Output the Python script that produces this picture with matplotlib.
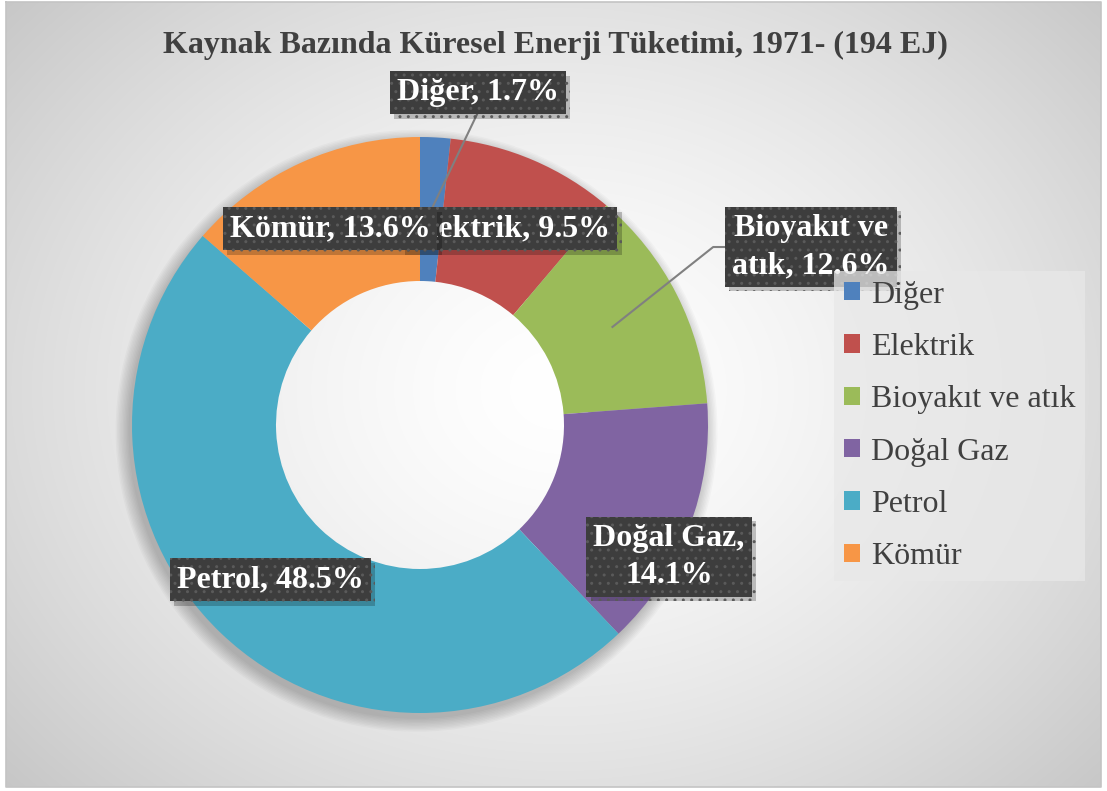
import numpy as np
import matplotlib.pyplot as plt
from matplotlib import patheffects as pe
from matplotlib.patches import Wedge

plt.rcParams['font.family'] = ['Liberation Serif', 'DejaVu Serif']

# data
categories = ['Diğer', 'Elektrik', 'Bioyakıt ve atık', 'Doğal Gaz', 'Petrol', 'Kömür']
shares = [1.7, 9.5, 12.6, 14.1, 48.5, 13.6]
label_names = ['Diğer', 'Elektrik', 'Bioyakıt ve\natık', 'Doğal Gaz', 'Petrol', 'Kömür']
label_seps = [', ', ', ', ', ', ',\n', ', ', ', ']
colors = ['#4F81BD', '#C0504D', '#9BBB59', '#8064A2', '#4BACC6', '#F79646']
title = 'Kaynak Bazında Küresel Enerji Tüketimi, 1971- (194 EJ)'

# label layout (pie data coords), draw order
label_pos = [(0.20, 1.153), (0.31, 0.681), (1.358, 0.618), (0.865, -0.458), (-0.52, -0.538), (-0.3125, 0.681)]
label_z = [5, 5, 5, 5, 5, 6]

W, H = 1107, 791
fig = plt.figure(figsize=(W / 100, H / 100), dpi=100)

# background with radial gradient
bg = fig.add_axes([0, 0, 1, 1])
bg.axis('off')
yy, xx = np.mgrid[0:H, 0:W]
d = np.sqrt(((xx - 560) / 700.0) ** 2 + ((yy - 390) / 560.0) ** 2)
val = np.clip(1 - 0.2 * d ** 1.5, 0, 1)
img = np.dstack([val, val, val])
bg.imshow(img, extent=(6, 1101, 787, 2), aspect='auto', interpolation='bilinear')
bg.plot([6, 1101, 1101, 6, 6], [2, 2, 787, 787, 2], color='#c4c4c4', lw=1.2)
bg.set_xlim(0, W)
bg.set_ylim(H, 0)

fig.text(555 / W, 1 - 45 / H, title, ha='center', va='center', fontsize=23,
         fontweight='bold', color='#404040')

# donut
cx, cy, R = 420, 425, 288
ax = fig.add_axes([(cx - R) / W, 1 - (cy + R) / H, 2 * R / W, 2 * R / H])
# soft shadow under the ring
for k in range(10):
    ax.add_patch(Wedge((-0.012, -0.02), 1.0 + k * 0.005, 0, 360, width=0.4 + k * 0.005,
                       facecolor='black', alpha=0.025, linewidth=0, zorder=0, clip_on=False))
wedges, _ = ax.pie(shares, colors=colors, startangle=90, counterclock=False,
                   radius=1, wedgeprops=dict(width=0.5, linewidth=0, zorder=1))
ax.set_xlim(-1, 1)
ax.set_ylim(-1, 1)
ax.set_aspect('equal')
ax.axis('off')

# leader lines
for i in [0, 2]:
    w = wedges[i]
    mid = np.deg2rad((w.theta1 + w.theta2) / 2)
    px, py = 0.75 * np.cos(mid), 0.75 * np.sin(mid)
    lx, ly = label_pos[i]
    if i == 0:
        ax.plot([px, lx], [py, ly - 0.07], color='#808080', lw=1.5, zorder=4, clip_on=False)
    else:
        ax.plot([px, lx - 0.34, lx - 0.30], [py, ly, ly], color='#808080', lw=1.5, zorder=4, clip_on=False)

for i in range(len(categories)):
    txt = label_names[i] + label_seps[i] + '{:.1f}%'.format(shares[i])
    t = ax.text(label_pos[i][0], label_pos[i][1], txt, ha='center', va='center',
                fontsize=23, fontweight='bold', color='white', zorder=label_z[i],
                linespacing=1.38, clip_on=False,
                bbox=dict(boxstyle='square,pad=0.22', facecolor='#3d3d3d',
                          edgecolor='#5a5a5a', hatch='..', linewidth=0))
    t.get_bbox_patch().set_path_effects([
        pe.withSimplePatchShadow(offset=(3, -3), shadow_rgbFace='#000000', alpha=0.22),
        pe.Normal()])

leg = fig.legend(wedges, categories, loc='upper left',
                 bbox_to_anchor=(834 / W, 1 - 271 / H), fontsize=23,
                 frameon=True, facecolor='#e8e8e8', framealpha=0.75, edgecolor='none',
                 fancybox=False, handlelength=0.5, handleheight=0.5, handletextpad=0.35,
                 labelspacing=0.73, borderpad=0.3, borderaxespad=0, labelcolor='#404040')
leg.set_zorder(3)

fig.savefig('out.png', dpi=100)
